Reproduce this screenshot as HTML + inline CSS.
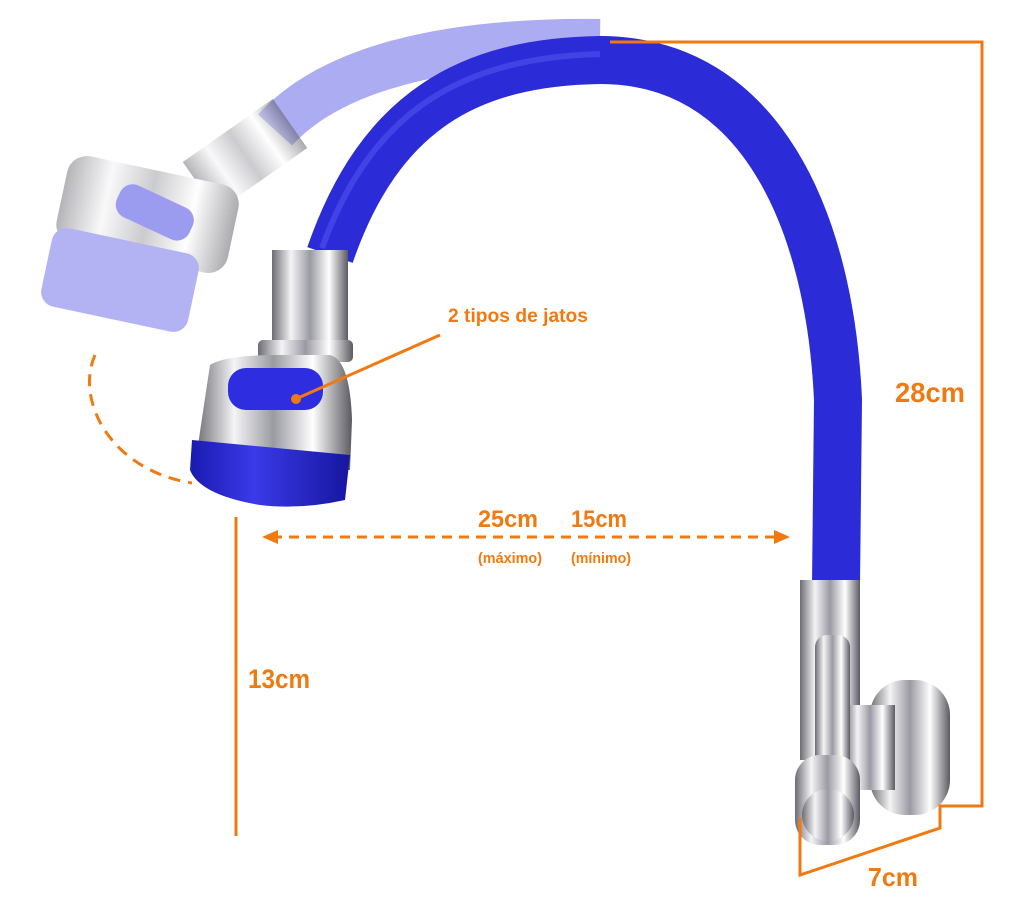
<!DOCTYPE html>
<html><head><meta charset="utf-8"><style>
html,body{margin:0;padding:0;background:#fff;}
svg{display:block}
text{font-family:"Liberation Sans Narrow","Liberation Sans",sans-serif;font-weight:bold;fill:#f07a12;}
</style></head><body>
<svg width="1024" height="917" viewBox="0 0 1024 917" xmlns="http://www.w3.org/2000/svg">
<defs>
<linearGradient id="chrome" x1="0" x2="1" y1="0" y2="0">
<stop offset="0" stop-color="#6c6c74"/><stop offset="0.25" stop-color="#f4f4f6"/><stop offset="0.5" stop-color="#9a9aa2"/><stop offset="0.75" stop-color="#ffffff"/><stop offset="1" stop-color="#5a5a62"/></linearGradient>
<linearGradient id="blueg" x1="0" x2="1"><stop offset="0" stop-color="#1a1ab0"/><stop offset="0.4" stop-color="#3a3ae8"/><stop offset="1" stop-color="#1616a0"/></linearGradient>
</defs>
<path d="M275,130 C330,70 440,40 600,42" stroke="#9d9df0" stroke-width="46" fill="none" opacity="0.85"/>
<g opacity="0.5">
<rect x="190" y="125" width="110" height="60" fill="url(#chrome)" transform="rotate(-35 245 155)"/>
<rect x="60" y="170" width="175" height="90" rx="20" fill="url(#chrome)" transform="rotate(12 150 215)"/>
<rect x="45" y="240" width="150" height="80" rx="15" fill="#6a6ae8" transform="rotate(12 120 280)"/>
<rect x="115" y="195" width="80" height="35" rx="14" fill="#3a3ae0" transform="rotate(25 155 212)"/>
</g>
<path d="M330,255 C380,110 470,62 600,60 C760,60 830,220 838,400 L836,585" stroke="#2b2bd8" stroke-width="48" fill="none"/>
<path d="M322,248 C372,110 462,58 600,54" stroke="#5252ee" stroke-width="6" fill="none" opacity="0.6"/>
<rect x="272" y="250" width="76" height="100" fill="url(#chrome)"/>
<rect x="258" y="340" width="95" height="22" rx="5" fill="url(#chrome)"/>
<path d="M210,365 Q225,355 280,355 L330,355 Q350,360 352,420 L350,470 L195,465 Z" fill="url(#chrome)"/>
<path d="M192,440 L350,455 L345,500 Q300,510 260,505 Q200,495 190,470 Z" fill="url(#blueg)"/>
<rect x="228" y="368" width="95" height="42" rx="18" fill="#2e2ee0"/>
<rect x="800" y="580" width="60" height="180" fill="url(#chrome)"/>
<rect x="870" y="680" width="80" height="135" rx="35" fill="url(#chrome)"/>
<rect x="845" y="705" width="50" height="85" fill="url(#chrome)"/>
<rect x="815" y="635" width="35" height="170" rx="12" fill="url(#chrome)"/>
<rect x="795" y="755" width="65" height="90" rx="25" fill="url(#chrome)"/>
<ellipse cx="828" cy="815" rx="26" ry="26" fill="url(#chrome)"/>
<g stroke="#f07a12" stroke-width="3" fill="none">
<polyline points="610,42 982,42 982,806 940,806 940,828 800,875 800,818"/>
<line x1="236" y1="517" x2="236" y2="836"/>
<line x1="272" y1="537" x2="778" y2="537" stroke-dasharray="10,7"/>
<path d="M95,355 C75,400 110,470 192,483" stroke-dasharray="12,8"/>
<line x1="440" y1="335" x2="298" y2="398"/>
</g>
<circle cx="296" cy="399" r="5" fill="#f07a12"/>
<polygon points="262,537 278,530 278,544" fill="#f07a12"/>
<polygon points="790,537 774,530 774,544" fill="#f07a12"/>
<text x="448" y="322" font-size="19" textLength="140" lengthAdjust="spacingAndGlyphs">2 tipos de jatos</text>
<text x="895" y="402" font-size="28" textLength="70" lengthAdjust="spacingAndGlyphs">28cm</text>
<text x="478" y="527" font-size="24" textLength="60" lengthAdjust="spacingAndGlyphs">25cm</text>
<text x="571" y="527" font-size="24" textLength="56" lengthAdjust="spacingAndGlyphs">15cm</text>
<text x="478" y="563" font-size="15" textLength="64" lengthAdjust="spacingAndGlyphs">(máximo)</text>
<text x="571" y="563" font-size="15" textLength="60" lengthAdjust="spacingAndGlyphs">(mínimo)</text>
<text x="248" y="688" font-size="27" textLength="62" lengthAdjust="spacingAndGlyphs">13cm</text>
<text x="868" y="886" font-size="26" textLength="50" lengthAdjust="spacingAndGlyphs">7cm</text>
</svg>
</body></html>
